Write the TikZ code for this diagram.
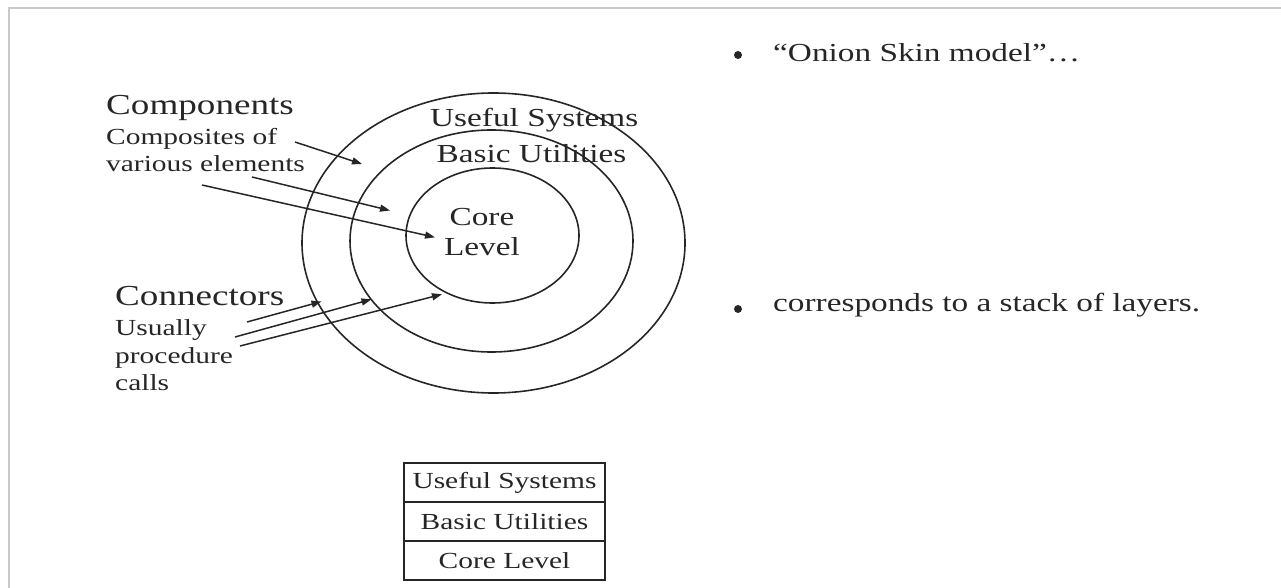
\documentclass[tikz,border=0pt]{standalone}
\usepackage{fontspec}
\usetikzlibrary{arrows.meta}
\newfontfamily\wideserif[FakeStretch=1.28]{Liberation Serif}
\newcommand{\fs}[1]{\wideserif\fontsize{#1}{#1}\selectfont}
\definecolor{ink}{HTML}{262626}
\definecolor{framegray}{HTML}{C8C8C8}
\tikzset{
  ring/.style={draw=ink, line width=1.6pt},
  pointer/.style={draw=ink, line width=1.5pt, -{Triangle[length=10pt,width=7pt]}},
  label/.style={inner sep=0pt, text=ink, anchor=base west},
  layer/.style={draw=ink, line width=1.6pt, minimum width=201pt, minimum height=39pt,
                inner sep=0pt, outer sep=0pt, text=ink, font=\fs{23}},
  dot/.style={circle, fill=ink, inner sep=0pt, minimum size=8pt}
}
\begin{document}
\begin{tikzpicture}[x=1pt,y=-1pt]
\useasboundingbox (0,0) rectangle (1281,588);
% slide frame
\draw[framegray, line width=2pt] (9,588) -- (9,8) -- (1281,8);

% onion rings
\draw[ring] (493.5,243) ellipse [x radius=191.5pt, y radius=150pt];
\draw[ring] (491.5,241) ellipse [x radius=141.5pt, y radius=111pt];
\draw[ring] (492.5,235.5) ellipse [x radius=86.5pt, y radius=67.5pt];

% ring labels
\node[label, font=\fs{26}] (useful) at (430,126.5) {Useful Systems};
\node[label, font=\fs{26}] (basic) at (436.5,162.5) {Basic Utilities};
\node[inner sep=0pt, text=ink, anchor=base, font=\fs{26}] (core) at (482,225) {Core};
\node[inner sep=0pt, text=ink, anchor=base, font=\fs{26}] (level) at (482,255) {Level};

% left-hand labels
\node[label, font=\fs{29}] (comp) at (106,115) {Components};
\node[label, font=\fs{23}] (compa) at (106,145) {Composites of};
\node[label, font=\fs{23}] (compb) at (106,171.5) {various elements};
\node[label, font=\fs{29}] (conn) at (115,305) {Connectors};
\node[label, font=\fs{23}] (conna) at (115,335) {Usually};
\node[label, font=\fs{23}] (connb) at (115,363) {procedure};
\node[label, font=\fs{23}] (connc) at (115,390) {calls};

% pointer ends
\coordinate (ca1) at (295,142);
\coordinate (ca2) at (252,177);
\coordinate (ca3) at (202,185);
\coordinate (ct1) at (362,164);
\coordinate (ct2) at (390,210.5);
\coordinate (ct3) at (435,237.3);
\coordinate (na1) at (247,322);
\coordinate (na2) at (235,337);
\coordinate (na3) at (240,346);
\coordinate (nt1) at (321.5,301.5);
\coordinate (nt2) at (371.5,299.3);
\coordinate (nt3) at (442,294.3);

\draw[pointer] (ca1) -- (ct1);
\draw[pointer] (ca2) -- (ct2);
\draw[pointer] (ca3) -- (ct3);
\draw[pointer] (na1) -- (nt1);
\draw[pointer] (na2) -- (nt2);
\draw[pointer] (na3) -- (nt3);

% layer stack
\node[layer] (s1) at (504.5,482.5) {Useful Systems};
\node[layer, anchor=north] (s2) at (s1.south) {Basic Utilities};
\node[layer, anchor=north] (s3) at (s2.south) {Core Level};

% bullet points
\node[dot] (b1) at (738,55) {};
\node[label, font=\fs{26}] (t1) at (773,61.5) {“Onion Skin model”…};
\node[dot] (b2) at (738,309) {};
\node[label, font=\fs{26}] (t2) at (773,311.5) {corresponds to a stack of layers.};
\end{tikzpicture}
\end{document}
